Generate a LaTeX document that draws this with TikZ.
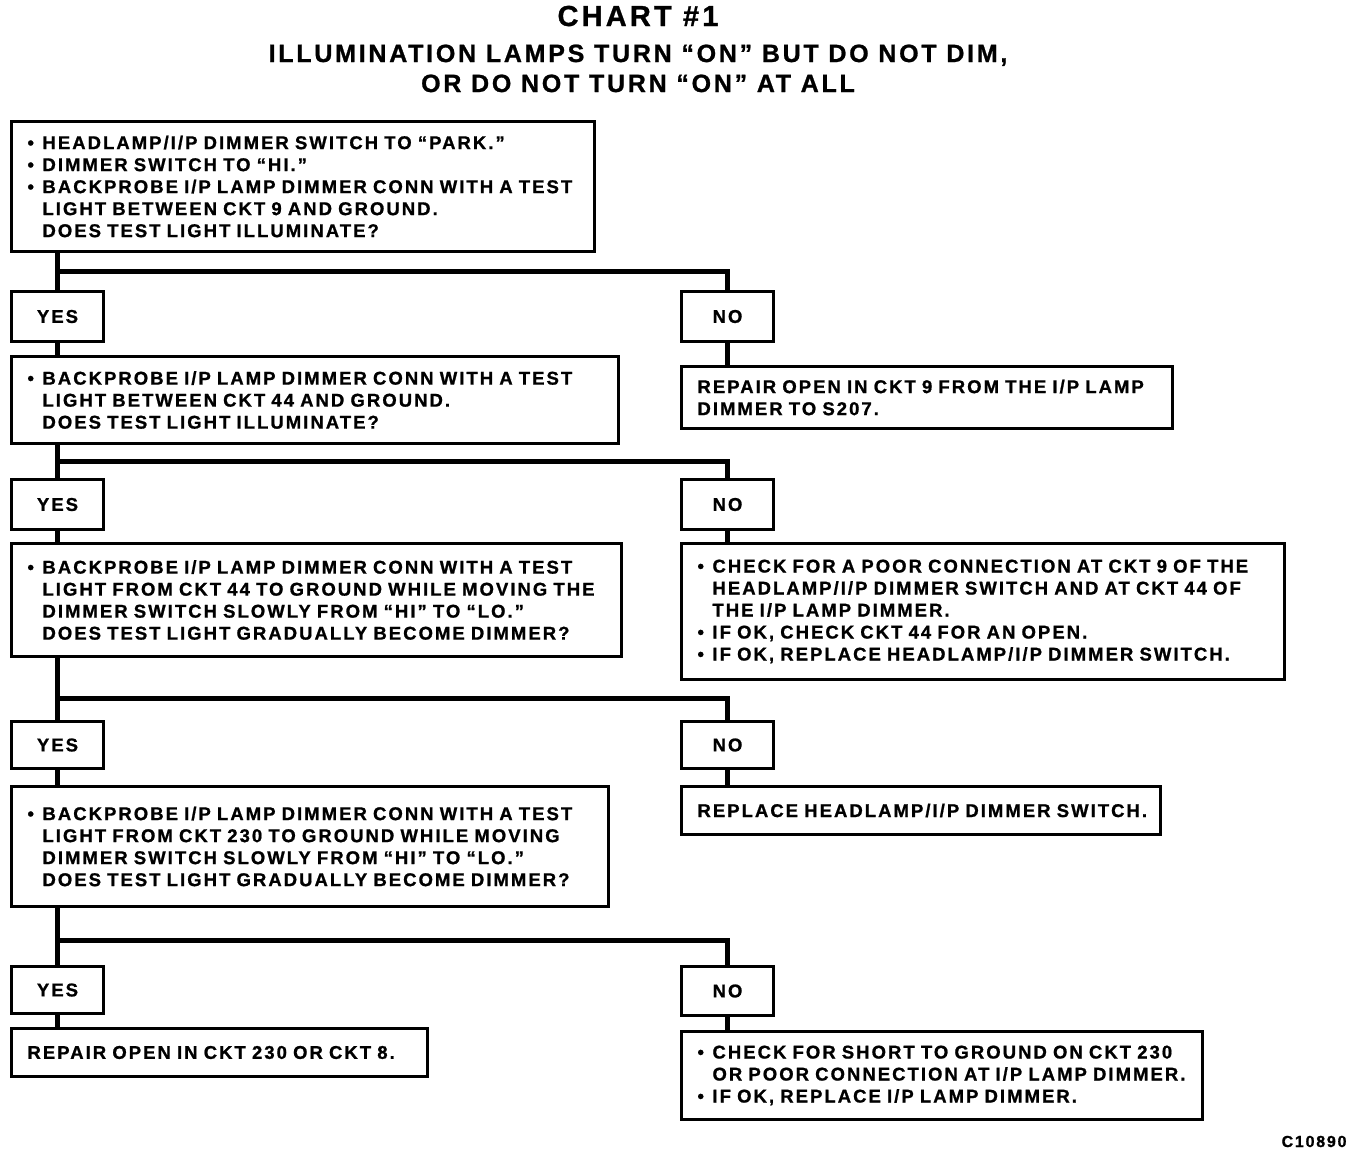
\documentclass[tikz,border=0pt]{standalone}
\usepackage{fontspec}
\setmainfont{Liberation Sans}[LetterSpace=11, BoldFeatures={FakeBold=1}]
\usetikzlibrary{calc}

\newcommand{\bul}{\makebox[15pt][l]{\textbullet}}
\newcommand{\ind}{\hspace*{15pt}}

\tikzset{
  stepbox/.style={draw, line width=3pt, anchor=north west, align=left,
    inner xsep=16pt, inner ysep=0pt,
    font=\bfseries\fontsize{18.5}{22}\selectfont},
  answer/.style={draw, line width=3pt, anchor=north west,
    minimum width=92pt, minimum height=50pt, inner sep=0pt,
    font=\bfseries\fontsize{18.5}{22}\selectfont},
  conn/.style={line width=5pt}
}

\begin{document}
\begin{tikzpicture}[x=1pt,y=-1pt]
\useasboundingbox (0,0) rectangle (1360,1154);

% title
\node[anchor=base, font=\bfseries\fontsize{29}{30}\selectfont] (title) at (638,26) {CHART \#1};
\node[anchor=base, font=\bfseries\fontsize{25}{30}\selectfont] (sub1) at (638,62) {ILLUMINATION LAMPS TURN “ON” BUT DO NOT DIM,};
\node[anchor=base, font=\bfseries\fontsize{25}{30}\selectfont] (sub2) at (638,92) {OR DO NOT TURN “ON” AT ALL};

% first test
\node[stepbox, text width=551pt, minimum height=130pt] (q1) at (10,120) {%
\bul HEADLAMP/I/P DIMMER SWITCH TO “PARK.”\\
\bul DIMMER SWITCH TO “HI.”\\
\bul BACKPROBE I/P LAMP DIMMER CONN WITH A TEST\\
\ind LIGHT BETWEEN CKT 9 AND GROUND.\\
\ind DOES TEST LIGHT ILLUMINATE?};

\node[answer] (yes1) at (10,290) {YES};
\node[answer] (no1) at (680,290) {NO};

\node[stepbox, text width=575pt, minimum height=87pt] (q2) at (10,355) {%
\bul BACKPROBE I/P LAMP DIMMER CONN WITH A TEST\\
\ind LIGHT BETWEEN CKT 44 AND GROUND.\\
\ind DOES TEST LIGHT ILLUMINATE?};
\node[stepbox, text width=459pt, minimum height=62pt] (r1) at (680,365) {%
REPAIR OPEN IN CKT 9 FROM THE I/P LAMP\\
DIMMER TO S207.};

% second test
\node[answer] (yes2) at (10,478) {YES};
\node[answer] (no2) at (680,478) {NO};

\node[stepbox, text width=578pt, minimum height=113pt] (q3) at (10,542) {%
\bul BACKPROBE I/P LAMP DIMMER CONN WITH A TEST\\
\ind LIGHT FROM CKT 44 TO GROUND WHILE MOVING THE\\
\ind DIMMER SWITCH SLOWLY FROM “HI” TO “LO.”\\
\ind DOES TEST LIGHT GRADUALLY BECOME DIMMER?};
\node[stepbox, text width=571pt, minimum height=136pt] (r2) at (680,542) {%
\bul CHECK FOR A POOR CONNECTION AT CKT 9 OF THE\\
\ind HEADLAMP/I/P DIMMER SWITCH AND AT CKT 44 OF\\
\ind THE I/P LAMP DIMMER.\\
\bul IF OK, CHECK CKT 44 FOR AN OPEN.\\
\bul IF OK, REPLACE HEADLAMP/I/P DIMMER SWITCH.};

% third test
\node[answer, minimum height=47pt] (yes3) at (10,720) {YES};
\node[answer, minimum height=47pt] (no3) at (680,720) {NO};

\node[stepbox, text width=565pt, minimum height=120pt] (q4) at (10,785) {%
\bul BACKPROBE I/P LAMP DIMMER CONN WITH A TEST\\
\ind LIGHT FROM CKT 230 TO GROUND WHILE MOVING\\
\ind DIMMER SWITCH SLOWLY FROM “HI” TO “LO.”\\
\ind DOES TEST LIGHT GRADUALLY BECOME DIMMER?};
\node[stepbox, text width=447pt, minimum height=48pt] (r3) at (680,785) {%
REPLACE HEADLAMP/I/P DIMMER SWITCH.};

% fourth test
\node[answer, minimum height=47pt] (yes4) at (10,965) {YES};
\node[answer, minimum height=49pt] (no4) at (680,965) {NO};

\node[stepbox, text width=384pt, minimum height=48pt] (r4) at (10,1027) {%
REPAIR OPEN IN CKT 230 OR CKT 8.};
\node[stepbox, text width=489pt, minimum height=88pt] (r5) at (680,1030) {%
\bul CHECK FOR SHORT TO GROUND ON CKT 230\\
\ind OR POOR CONNECTION AT I/P LAMP DIMMER.\\
\bul IF OK, REPLACE I/P LAMP DIMMER.};

\node[anchor=base east, font=\bfseries\fontsize{16}{18}\selectfont] (code) at (1350,1147) {C10890};

% connectors
\coordinate (s1) at ($(yes1.north)!0.5!(yes1.north |- q1.south)$);
\coordinate (s2) at ($(yes2.north)!0.5!(yes2.north |- q2.south)$);
\coordinate (s3) at ($(yes3.north)!0.35!(yes3.north |- q3.south)$);
\coordinate (s4) at ($(yes4.north)!0.43!(yes4.north |- q4.south)$);

\draw[conn] (yes1.north |- q1.south) -- (yes1.north);
\draw[conn] (s1) -| (no1.north);
\draw[conn] (yes1.south) -- (yes1.south |- q2.north);
\draw[conn] (no1.south) -- (no1.south |- r1.north);

\draw[conn] (yes2.north |- q2.south) -- (yes2.north);
\draw[conn] (s2) -| (no2.north);
\draw[conn] (yes2.south) -- (yes2.south |- q3.north);
\draw[conn] (no2.south) -- (no2.south |- r2.north);

\draw[conn] (yes3.north |- q3.south) -- (yes3.north);
\draw[conn] (s3) -| (no3.north);
\draw[conn] (yes3.south) -- (yes3.south |- q4.north);
\draw[conn] (no3.south) -- (no3.south |- r3.north);

\draw[conn] (yes4.north |- q4.south) -- (yes4.north);
\draw[conn] (s4) -| (no4.north);
\draw[conn] (yes4.south) -- (yes4.south |- r4.north);
\draw[conn] (no4.south) -- (no4.south |- r5.north);
\end{tikzpicture}
\end{document}
